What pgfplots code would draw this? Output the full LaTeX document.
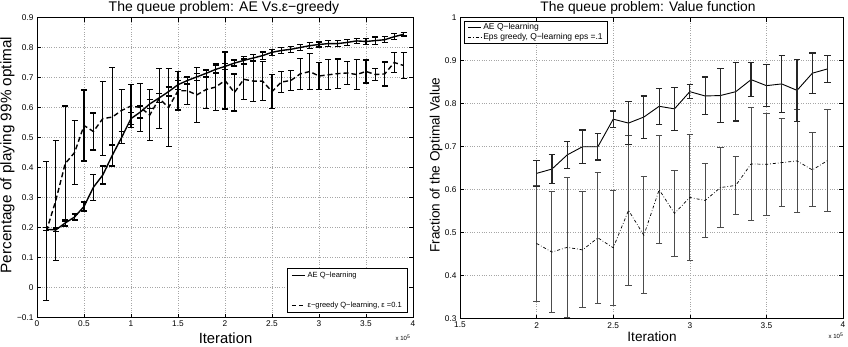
\documentclass[border=0pt]{standalone}
\usepackage{fontspec}
\setmainfont{Liberation Sans}
\usepackage{pgfplots}
\usepackage{pgfplotstable}
\pgfplotsset{compat=1.18}

\pgfplotstableread{
x y e
0.1 0.194 0.005
0.2 0.192 0.006
0.3 0.215 0.010
0.4 0.235 0.010
0.5 0.270 0.015
0.6 0.334 0.043
0.7 0.375 0.030
0.8 0.440 0.035
0.9 0.500 0.020
1.0 0.563 0.020
1.1 0.585 0.020
1.2 0.612 0.015
1.3 0.632 0.015
1.4 0.653 0.015
1.5 0.676 0.015
1.6 0.690 0.012
1.7 0.702 0.012
1.8 0.714 0.012
1.9 0.727 0.012
2.0 0.737 0.010
2.1 0.748 0.010
2.2 0.757 0.012
2.3 0.765 0.012
2.4 0.773 0.012
2.5 0.784 0.010
2.6 0.790 0.010
2.7 0.794 0.010
2.8 0.800 0.010
2.9 0.806 0.010
3.0 0.810 0.008
3.1 0.813 0.010
3.2 0.813 0.010
3.3 0.817 0.010
3.4 0.822 0.008
3.5 0.820 0.010
3.6 0.823 0.012
3.7 0.826 0.010
3.8 0.836 0.010
3.9 0.844 0.006
}\leftAE

\pgfplotstableread{
x y e
0.1 0.188 0.232
0.2 0.290 0.200
0.3 0.413 0.192
0.4 0.450 0.107
0.5 0.540 0.118
0.6 0.520 0.062
0.7 0.563 0.124
0.8 0.568 0.165
0.9 0.590 0.070
1.0 0.605 0.072
1.1 0.600 0.080
1.2 0.575 0.085
1.3 0.630 0.100
1.4 0.600 0.130
1.5 0.656 0.064
1.6 0.656 0.047
1.7 0.642 0.092
1.8 0.660 0.063
1.9 0.668 0.077
2.0 0.690 0.095
2.1 0.650 0.062
2.2 0.694 0.068
2.3 0.688 0.069
2.4 0.688 0.065
2.5 0.653 0.056
2.6 0.685 0.035
2.7 0.690 0.034
2.8 0.712 0.052
2.9 0.720 0.061
3.0 0.705 0.045
3.1 0.709 0.050
3.2 0.713 0.049
3.3 0.715 0.039
3.4 0.710 0.051
3.5 0.720 0.038
3.6 0.710 0.020
3.7 0.712 0.040
3.8 0.750 0.034
3.9 0.740 0.043
}\leftEG

\pgfplotstableread{
x y e
2.0 0.638 0.030
2.1 0.648 0.034
2.2 0.681 0.032
2.3 0.700 0.039
2.4 0.700 0.031
2.5 0.764 0.019
2.6 0.755 0.050
2.7 0.769 0.049
2.8 0.794 0.042
2.9 0.788 0.050
3.0 0.828 0.016
3.1 0.818 0.044
3.2 0.819 0.063
3.3 0.828 0.068
3.4 0.856 0.040
3.5 0.842 0.049
3.6 0.846 0.067
3.7 0.831 0.072
3.8 0.871 0.047
3.9 0.881 0.032
}\rightAE

\pgfplotstableread{
x y e
2.0 0.475 0.134
2.1 0.455 0.140
2.2 0.466 0.163
2.3 0.460 0.135
2.4 0.488 0.153
2.5 0.465 0.134
2.6 0.552 0.174
2.7 0.494 0.136
2.8 0.600 0.125
2.9 0.545 0.100
3.0 0.582 0.146
3.1 0.575 0.085
3.2 0.605 0.092
3.3 0.610 0.067
3.4 0.660 0.131
3.5 0.659 0.118
3.6 0.663 0.103
3.7 0.667 0.120
3.8 0.646 0.086
3.9 0.668 0.118
}\rightEG

\pgfplotsset{
  mstyle/.style={
    scale only axis,
    axis line style={line width=0.9pt},
    tick style={black, line width=0.5pt},
    major tick length=4pt,
    grid=major,
    major grid style={dotted, gray!70, line width=0.5pt},
    tick label style={font=\fontsize{8.3}{10}\selectfont},
    legend cell align=left,
  },
}

\begin{document}
\begin{tikzpicture}[x=1pt,y=1pt]
% ---------------- left ----------------
\begin{axis}[mstyle,
  at={(37pt,-317.5pt)}, anchor=south west,
  width=376pt, height=300pt,
  xmin=0, xmax=4, ymin=-0.1, ymax=0.9,
  xtick={0,0.5,1,1.5,2,2.5,3,3.5,4},
  xticklabels={0,0.5,1,1.5,2,2.5,3,3.5,4},
  ytick={-0.1,0,0.1,0.2,0.3,0.4,0.5,0.6,0.7,0.8,0.9},
  yticklabels={−0.1,0,0.1,0.2,0.3,0.4,0.5,0.6,0.7,0.8,0.9},
  legend style={at={(0.987,0.015)}, anchor=south east,
    font=\fontsize{7.5}{8.5}\selectfont, draw=black, line width=0.8pt,
    inner xsep=4pt, inner ysep=1.5pt, row sep=19pt},
  legend image code/.code={\draw[#1] (0pt,0pt) -- (13pt,0pt);},
]
\addlegendimage{black, line width=1.4pt}
\addlegendentry{AE Q−learning}
\addlegendimage{black, line width=1.4pt, dash pattern=on 4pt off 3pt}
\addlegendentry{ε−greedy Q−learning, ε =0.1}
\addplot[black, line width=1.4pt, forget plot,
  error bars/.cd, y dir=both, y explicit,
  error bar style={line width=1.3pt, solid},
  error mark options={rotate=90, mark size=3pt, line width=1.3pt, solid}]
  table[x=x, y=y, y error=e]{\leftAE};
\addplot[black, line width=1.4pt, dash pattern=on 5pt off 3pt, forget plot,
  error bars/.cd, y dir=both, y explicit,
  error bar style={line width=1.3pt, solid},
  error mark options={rotate=90, mark size=3pt, line width=1.3pt, solid}]
  table[x=x, y=y, y error=e]{\leftEG};
\end{axis}

% ---------------- right ----------------
\begin{axis}[mstyle,
  at={(460pt,-318.7pt)}, anchor=south west,
  width=383pt, height=301pt,
  xmin=1.5, xmax=4, ymin=0.3, ymax=1,
  xtick={1.5,2,2.5,3,3.5,4},
  xticklabels={1.5,2,2.5,3,3.5,4},
  ytick={0.3,0.4,0.5,0.6,0.7,0.8,0.9,1},
  yticklabels={0.3,0.4,0.5,0.6,0.7,0.8,0.9,1},
  legend style={at={(0.011,0.99)}, anchor=north west,
    font=\fontsize{8.5}{9.5}\selectfont, draw=black, line width=0.8pt,
    inner xsep=3pt, inner ysep=0.5pt, row sep=-2pt},
  legend image code/.code={\draw[#1] (0pt,0pt) -- (13pt,0pt);},
]
\addlegendimage{black, line width=0.7pt}
\addlegendentry{AE Q−learning}
\addlegendimage{black, line width=0.7pt, dash pattern=on 3pt off 2pt on 0.7pt off 2pt}
\addlegendentry{Eps greedy, Q−learning eps =.1}
\addplot[black!75, line width=0.9pt, draw=none, forget plot,
  error bars/.cd, y dir=both, y explicit,
  error bar style={line width=1pt, black!70, solid},
  error mark options={rotate=90, mark size=3.2pt, line width=1pt, black!70, solid}]
  table[x=x, y=y, y error=e]{\rightEG};
\addplot[black, line width=0.7pt, dash pattern=on 3pt off 2pt on 0.7pt off 2pt, forget plot]
  table[x=x, y=y]{\rightEG};
\addplot[black, line width=0.9pt, forget plot,
  error bars/.cd, y dir=both, y explicit,
  error bar style={line width=1.2pt, black!85, solid},
  error mark options={rotate=90, mark size=3.2pt, line width=1.2pt, black!85, solid}]
  table[x=x, y=y, y error=e]{\rightAE};
\end{axis}

% ---------------- texts ----------------
\node[anchor=base, font=\fontsize{14}{16}\selectfont] at (224,-11.5) {The queue problem: AE Vs.ε−greedy};
\node[anchor=base, font=\fontsize{13.8}{16}\selectfont] at (648,-11.5) {The queue problem: Value function};
\node[font=\fontsize{14.8}{16}\selectfont] at (225.5,-338) {Iteration};
\node[font=\fontsize{13.6}{15}\selectfont] at (652,-337) {Iteration};
\node[rotate=90, font=\fontsize{15.3}{17}\selectfont] at (7.5,-155) {Percentage of playing 99\% optimal};
\node[rotate=90, font=\fontsize{13.6}{15}\selectfont] at (436,-165) {Fraction of the Optimal Value};
\node[font=\fontsize{6}{7}\selectfont] at (403,-338) {x 10\textsuperscript{5}};
\node[font=\fontsize{6}{7}\selectfont] at (836,-336) {x 10\textsuperscript{5}};

\pgfresetboundingbox
\path[use as bounding box] (0,0) rectangle (848,-346);
\end{tikzpicture}
\end{document}
